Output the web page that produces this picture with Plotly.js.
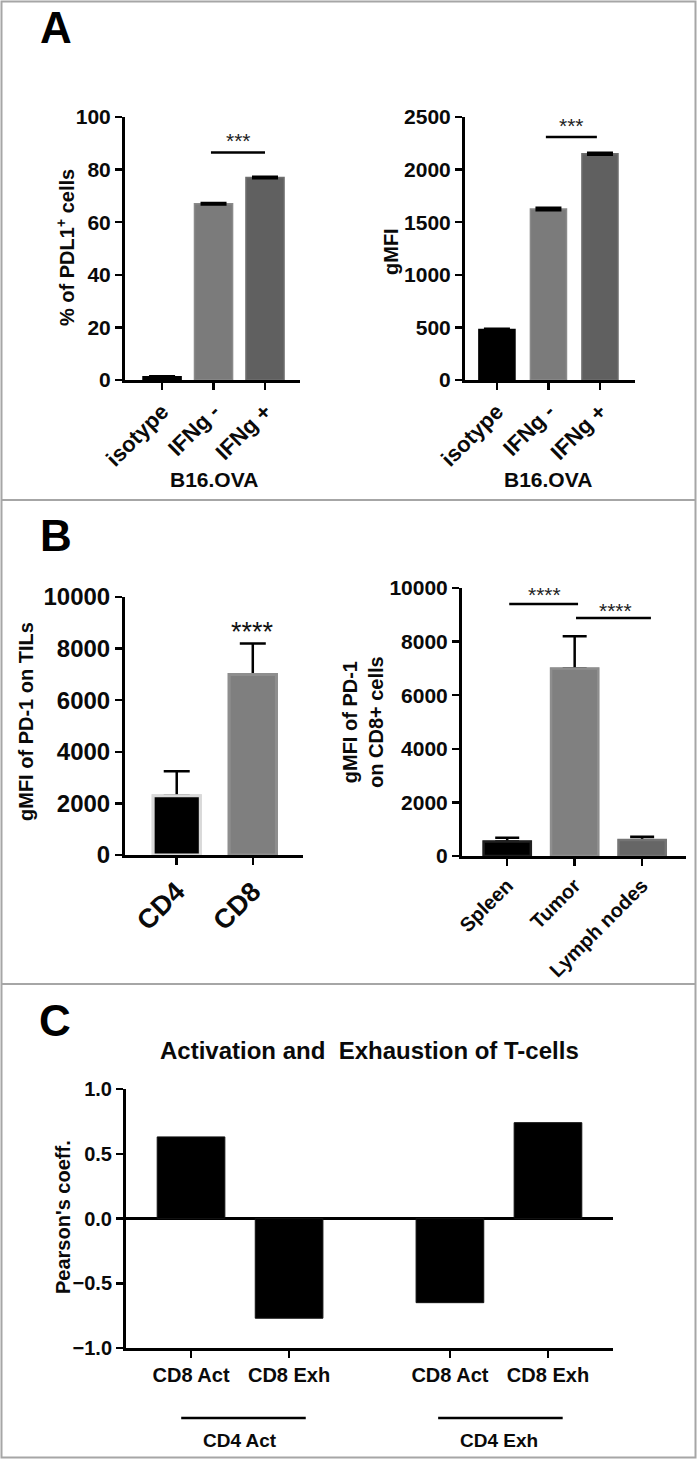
<!DOCTYPE html>
<html><head><meta charset="utf-8">
<script src="https://cdn.plot.ly/plotly-3.0.1.min.js"></script>
<style>html,body{margin:0;padding:0;background:#fff}</style>
</head><body><div id="chart" style="width:697px;height:1459px"></div>
<script>
// ---------- DATA ----------
// Panel A
const aCategories = ['isotype', 'IFNg -', 'IFNg +'];
const aPctValues = [1.2, 67, 77];
const aPctErrors = [0.2, 0.3, 0.3];
const aGmfiValues = [480, 1625, 2150];
const aGmfiErrors = [8, 12, 10];
// Panel B
const bTilCategories = ['CD4', 'CD8'];
const bTilValues = [2300, 7000];
const bTilErrors = [950, 1200];
const bOrganCategories = ['Spleen', 'Tumor', 'Lymph nodes'];
const bOrganValues = [540, 7000, 600];
const bOrganErrors = [140, 1200, 120];
// Panel C
const cCategories = ['CD8 Act', 'CD8 Exh'];
const cGroups = ['CD4 Act', 'CD4 Exh'];
const cActValues = [0.63, -0.77];
const cExhValues = [-0.65, 0.74];

// ---------- STYLE ----------
const W = 697, H = 1459;
const px = v => v / W;
const py = v => 1 - v / H;
const FONT = 'Liberation Sans, Arial, sans-serif';
const aColors = ['#000000', '#7b7b7b', '#606060'];
const aLineColors = ['#000000', '#8a8a8a', '#6e6e6e'];
const bTilColors = ['#000000', '#7f7f7f'];
const bTilLineColors = ['#d9d9d9', '#8e8e8e'];
const bOrganColors = ['#000000', '#808080', '#666666'];
const bOrganLineColors = ['#202020', '#8e8e8e', '#747474'];
const zeros = arr => arr.map(() => 0);
const bold = (size) => ({family: FONT, size: size, color: '#0a0a0a', weight: 'bold'});

function axis(extra) {
  return Object.assign({
    showline: true, linecolor: '#000', linewidth: 3,
    ticks: 'outside', ticklen: 7, tickwidth: 2.5, tickcolor: '#000',
    showgrid: false, zeroline: false, fixedrange: true,
    tickfont: bold(21)
  }, extra);
}
function errs(plus, minus, w) {
  return {type: 'data', symmetric: false, array: plus, arrayminus: minus,
          color: '#000', thickness: 2.5, width: w};
}

const traces = [
  {type: 'bar', x: aCategories, y: aPctValues, xaxis: 'x', yaxis: 'y', width: 0.74,
   marker: {color: aColors, line: {color: aLineColors, width: 1.5}},
   error_y: errs(aPctErrors, aPctErrors, 13)},
  {type: 'bar', x: aCategories, y: aGmfiValues, xaxis: 'x2', yaxis: 'y2', width: 0.70,
   marker: {color: aColors, line: {color: aLineColors, width: 1.5}},
   error_y: errs(aGmfiErrors, aGmfiErrors, 13)},
  {type: 'bar', x: bTilCategories, y: bTilValues, xaxis: 'x3', yaxis: 'y3', width: 0.62,
   marker: {color: bTilColors, line: {color: bTilLineColors, width: 3}},
   error_y: errs(bTilErrors, zeros(bTilErrors), 13)},
  {type: 'bar', x: bTilCategories, y: bTilValues, xaxis: 'x3', yaxis: 'y3', width: 0.62,
   marker: {color: bTilColors, line: {color: bTilLineColors, width: 3}}},
  {type: 'bar', x: bOrganCategories, y: bOrganValues, xaxis: 'x4', yaxis: 'y4', width: 0.70,
   marker: {color: bOrganColors, line: {color: bOrganLineColors, width: 1.5}},
   error_y: errs(bOrganErrors, zeros(bOrganErrors), 12)},
  {type: 'bar', x: bOrganCategories, y: bOrganValues, xaxis: 'x4', yaxis: 'y4', width: 0.70,
   marker: {color: bOrganColors, line: {color: bOrganLineColors, width: 2.5}}},
  {type: 'bar', x: cCategories, y: cActValues, xaxis: 'x5', yaxis: 'y5', width: 0.69,
   marker: {color: '#000', line: {color: '#111', width: 1}}},
  {type: 'bar', x: cCategories, y: cExhValues, xaxis: 'x6', yaxis: 'y5', width: 0.69,
   marker: {color: '#000', line: {color: '#111', width: 1}}}
];

const titleFont = bold(20);
const starFont = {family: FONT, size: 21, color: '#222'};

const annotations = [
  // panel letters
  {text: 'A', xref: 'paper', yref: 'paper', x: px(56), y: py(28), font: Object.assign(bold(44), {color: '#000'})},
  {text: 'B', xref: 'paper', yref: 'paper', x: px(56), y: py(535), font: Object.assign(bold(44), {color: '#000'})},
  {text: 'C', xref: 'paper', yref: 'paper', x: px(55), y: py(1020), font: Object.assign(bold(44), {color: '#000'})},
  // axis titles
  {text: '% of PDL1<sup>+</sup> cells', xref: 'paper', yref: 'paper', x: px(65), y: py(248), textangle: -90, font: titleFont},
  {text: 'gMFI', xref: 'paper', yref: 'paper', x: px(391), y: py(252), textangle: -90, font: titleFont},
  {text: 'gMFI of PD-1 on TILs', xref: 'paper', yref: 'paper', x: px(26), y: py(722), textangle: -90, font: titleFont},
  {text: 'gMFI of PD-1<br>on CD8+ cells', xref: 'paper', yref: 'paper', x: px(363), y: py(722), textangle: -90, font: titleFont},
  {text: "Pearson's coeff.", xref: 'paper', yref: 'paper', x: px(63), y: py(1217), textangle: -90, font: titleFont},
  {text: 'B16.OVA', xref: 'x', yref: 'paper', x: 1, y: py(480), font: bold(21)},
  {text: 'B16.OVA', xref: 'x2', yref: 'paper', x: 1, y: py(480), font: bold(21)},
  // significance stars
  {text: '***', xref: 'x', yref: 'paper', x: 1.48, y: py(140), font: starFont},
  {text: '***', xref: 'x2', yref: 'paper', x: 1.45, y: py(126), font: starFont},
  {text: '****', xref: 'x3', yref: 'paper', x: 1, y: py(632), font: {family: FONT, size: 27, color: '#111'}},
  {text: '****', xref: 'x4', yref: 'paper', x: 0.55, y: py(594), font: starFont},
  {text: '****', xref: 'x4', yref: 'paper', x: 1.6, y: py(611), font: starFont},
  // panel C
  {text: 'Activation and&nbsp; Exhaustion of T-cells', xref: 'paper', yref: 'paper', x: px(369), y: py(1050), font: bold(24)},
  {text: cGroups[0], xref: 'x5', yref: 'paper', x: 0.5, y: py(1440), font: bold(19)},
  {text: cGroups[1], xref: 'x6', yref: 'paper', x: 0.5, y: py(1440), font: bold(19)}
].map(a => Object.assign({showarrow: false, xanchor: 'center', yanchor: 'middle'}, a));

const layout = {
  width: W, height: H, margin: {l: 0, r: 0, t: 0, b: 0},
  paper_bgcolor: '#fff', plot_bgcolor: 'rgba(0,0,0,0)',
  showlegend: false, barmode: 'overlay',
  xaxis: axis({domain: [px(125), px(300)], range: [-0.72, 2.68], anchor: 'y', type: 'category', tickangle: -45, tickfont: bold(22)}),
  yaxis: axis({domain: [py(380), py(117)], range: [0, 100], dtick: 20, anchor: 'x'}),
  xaxis2: axis({domain: [px(465), px(635)], range: [-0.62, 2.68], anchor: 'y2', type: 'category', tickangle: -45, tickfont: bold(22)}),
  yaxis2: axis({domain: [py(380), py(117)], range: [0, 2500], dtick: 500, anchor: 'x2', tickformat: 'd'}),
  xaxis3: axis({domain: [px(125), px(303)], range: [-0.68, 1.66], anchor: 'y3', type: 'category', tickangle: -45, tickfont: bold(27)}),
  yaxis3: axis({domain: [py(855), py(597)], range: [0, 10000], dtick: 2000, anchor: 'x3', tickformat: 'd', tickfont: bold(24)}),
  xaxis4: axis({domain: [px(462), px(686)], range: [-0.67, 2.65], anchor: 'y4', type: 'category', tickangle: -45, tickfont: bold(20)}),
  yaxis4: axis({domain: [py(856), py(588)], range: [0, 10000], dtick: 2000, anchor: 'x4', tickformat: 'd'}),
  xaxis5: axis({domain: [px(126), px(369.5)], range: [-0.663, 1.82], anchor: 'y5', type: 'category', tickfont: bold(20)}),
  xaxis6: axis({domain: [px(369.5), px(613)], range: [-0.82, 1.663], anchor: 'y5', type: 'category', tickfont: bold(20)}),
  yaxis5: axis({domain: [py(1348), py(1089)], range: [-1, 1], dtick: 0.5, tickformat: '.1f', anchor: 'x5',
    zeroline: true, zerolinecolor: '#000', zerolinewidth: 2.5, tickfont: bold(20)}),
  shapes: [
    // panel frames
    {type: 'rect', xref: 'paper', yref: 'paper', x0: px(1.5), x1: px(695.5), y0: py(1457.5), y1: py(1.5),
     line: {color: '#a6a6a6', width: 2}},
    {type: 'line', xref: 'paper', yref: 'paper', x0: px(1.5), x1: px(695.5), y0: py(500), y1: py(500),
     line: {color: '#a6a6a6', width: 2}},
    {type: 'line', xref: 'paper', yref: 'paper', x0: px(1.5), x1: px(695.5), y0: py(984), y1: py(984),
     line: {color: '#a6a6a6', width: 2}},
    // significance lines
    {type: 'line', xref: 'x', yref: 'y', x0: 0.95, x1: 2, y0: 86.5, y1: 86.5, line: {color: '#000', width: 2.5}},
    {type: 'line', xref: 'x2', yref: 'y2', x0: 0.95, x1: 1.94, y0: 2310, y1: 2310, line: {color: '#000', width: 2.5}},
    {type: 'line', xref: 'x4', yref: 'y4', x0: 0.03, x1: 1.05, y0: 9400, y1: 9400, line: {color: '#000', width: 2.5}},
    {type: 'line', xref: 'x4', yref: 'y4', x0: 1.02, x1: 2.13, y0: 8880, y1: 8880, line: {color: '#000', width: 2.5}},
    // group lines panel C
    {type: 'line', xref: 'x5', yref: 'paper', x0: -0.1, x1: 1.17, y0: py(1418), y1: py(1418), line: {color: '#000', width: 2.5}},
    {type: 'line', xref: 'x6', yref: 'paper', x0: -0.12, x1: 1.15, y0: py(1418), y1: py(1418), line: {color: '#000', width: 2.5}}
  ],
  annotations: annotations
};

Plotly.newPlot('chart', traces, layout, {staticPlot: true, displayModeBar: false});
</script>
</body></html>
